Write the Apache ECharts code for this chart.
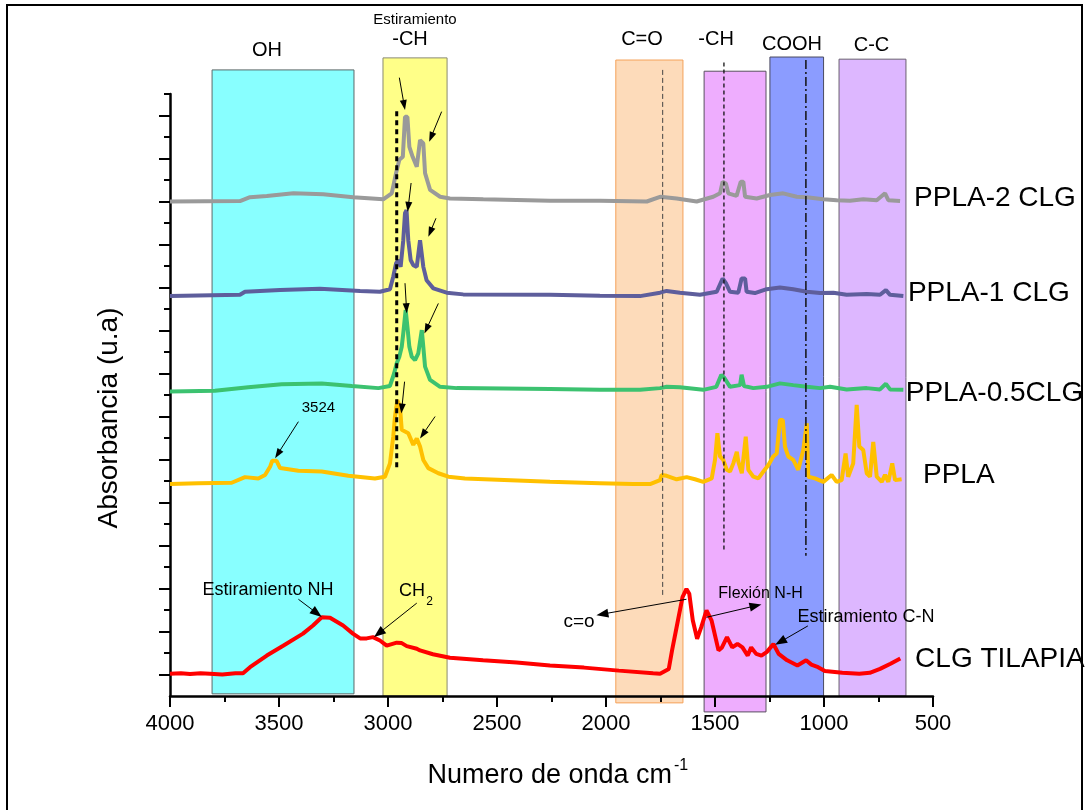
<!DOCTYPE html>
<html><head><meta charset="utf-8">
<script src="https://cdn.jsdelivr.net/npm/echarts@6/dist/echarts.min.js"></script>
<style>html,body{margin:0;padding:0;background:#fff}#c{width:1087px;height:810px}</style>
</head><body><div id="c"></div>
<script>
const FONT = '"Liberation Sans", Arial, sans-serif';

// ---- axis ticks ----
const xTickLabels = [4000, 3500, 3000, 2500, 2000, 1500, 1000, 500];
const yMajorTicks = [0,1,2,3,4,5,6,7,8,9,10,11,12,13];
const yMinorTicks = [0.5,1.5,2.5,3.5,4.5,5.5,6.5,7.5,8.5,9.5,10.5,11.5,12.5,13.5];

// ---- series (wavenumber cm-1, stacked absorbance u.a) ----
const seriesNames = ['CLG TILAPIA', 'PPLA', 'PPLA-0.5CLG', 'PPLA-1 CLG', 'PPLA-2 CLG'];

const redWn = [4000,3950,3908,3860,3817,3760,3700,3665,3633,3556,3481,3390,3344,3304,3266,3206,3161,3128,3098,3069,3037,3006,2960,2937,2914,2868,2853,2794,2716,2564,2410,2257,2101,1941,1784,1752,1712,1697,1673,1649,1631,1618,1602,1582,1563,1539,1516,1484,1468,1445,1421,1397,1374,1350,1334,1311,1287,1263,1232,1208,1169,1122,1082,1058,1027,996,916,838,790,743,695,650];
const redAbs = [0.02,0.03,0.01,0.03,0.02,0.0,0.03,0.03,0.17,0.44,0.67,0.95,1.14,1.33,1.32,1.14,0.95,0.84,0.84,0.87,0.79,0.67,0.74,0.73,0.66,0.60,0.56,0.47,0.39,0.33,0.28,0.21,0.16,0.09,0.03,0.02,0.13,0.56,1.18,1.80,1.99,1.88,1.26,0.83,1.10,1.49,1.26,0.56,0.63,0.87,0.63,0.71,0.63,0.44,0.63,0.48,0.44,0.52,0.71,0.48,0.33,0.21,0.33,0.23,0.17,0.08,0.04,0.02,0.04,0.13,0.25,0.37];

const yellowWn = [4000,3870,3717,3656,3595,3564,3541,3531,3511,3495,3411,3304,3182,3060,3014,2991,2976,2968,2957,2945,2937,2907,2884,2868,2853,2838,2815,2769,2723,2647,2257,2028,1875,1798,1752,1745,1722,1676,1630,1592,1554,1515,1500,1489,1477,1462,1446,1431,1416,1400,1393,1377,1359,1347,1324,1301,1278,1255,1233,1217,1202,1189,1179,1164,1141,1118,1095,1079,1072,1041,1003,965,942,919,901,889,866,850,838,820,804,789,774,758,735,720,705,687,674,644];
const yellowAbs = [4.43,4.45,4.46,4.59,4.56,4.64,4.83,4.97,4.97,4.80,4.74,4.72,4.62,4.56,4.60,4.91,5.53,6.00,6.38,6.23,5.69,5.61,5.34,5.49,5.30,4.99,4.80,4.68,4.60,4.56,4.48,4.45,4.43,4.43,4.52,4.64,4.62,4.54,4.59,4.54,4.48,4.56,4.99,5.61,5.07,4.99,4.76,4.72,4.91,5.18,4.95,4.68,5.53,4.76,4.60,4.56,4.72,4.87,5.07,5.14,5.92,5.92,5.30,5.07,4.99,4.76,5.22,5.84,4.60,4.56,4.48,4.64,4.48,4.52,5.14,4.60,4.91,6.27,5.30,5.22,4.68,4.60,5.41,4.60,4.48,4.64,4.48,4.91,4.52,4.54];

const greenWn = [4000,3794,3641,3488,3304,3166,3044,2991,2972,2960,2948,2937,2930,2919,2911,2902,2891,2876,2861,2845,2838,2830,2807,2761,2685,2257,2028,1844,1752,1722,1661,1554,1494,1471,1456,1431,1385,1378,1367,1324,1263,1202,1141,1079,1018,972,896,804,743,716,697,636];
const greenAbs = [6.58,6.60,6.68,6.75,6.77,6.71,6.66,6.71,7.00,7.24,7.39,7.62,7.93,8.48,8.09,7.62,7.39,7.31,7.47,8.01,7.62,7.16,6.85,6.69,6.66,6.64,6.62,6.62,6.66,6.69,6.68,6.62,6.69,6.97,6.89,6.69,6.73,6.97,6.71,6.66,6.69,6.77,6.73,6.69,6.66,6.69,6.63,6.66,6.63,6.76,6.63,6.62];

const blueWn = [4000,3679,3656,3495,3312,3128,3037,2991,2976,2963,2953,2942,2930,2922,2915,2907,2896,2884,2868,2853,2846,2838,2823,2792,2731,2655,2257,2028,1844,1752,1722,1661,1569,1492,1465,1450,1431,1393,1378,1362,1355,1317,1263,1202,1141,1079,1018,957,896,804,743,716,697,636];
const blueAbs = [8.80,8.83,8.90,8.94,8.97,8.92,8.90,8.96,9.25,9.56,9.64,9.48,10.10,10.73,10.80,10.10,9.64,9.52,9.48,10.10,10.14,9.48,9.17,8.98,8.88,8.84,8.83,8.81,8.80,8.88,8.92,8.88,8.83,8.90,9.21,9.10,8.90,8.88,9.21,9.21,8.90,8.87,8.96,9.00,8.96,8.90,8.87,8.88,8.83,8.85,8.83,8.94,8.83,8.80];

const grayWn = [4000,3679,3633,3556,3434,3297,3160,3022,2983,2963,2948,2932,2922,2911,2902,2887,2868,2853,2838,2830,2807,2761,2716,2563,2257,2028,1813,1752,1676,1584,1508,1477,1465,1450,1439,1401,1382,1370,1362,1309,1248,1187,1125,1079,1003,942,881,820,758,720,705,651];
const grayAbs = [11.00,11.01,11.10,11.13,11.19,11.17,11.10,11.05,11.19,11.66,11.97,12.04,12.97,12.97,12.27,12.04,11.81,12.43,12.35,11.66,11.27,11.11,11.07,11.05,11.02,11.02,11.00,11.11,11.07,11.00,11.11,11.19,11.46,11.42,11.19,11.13,11.46,11.46,11.11,11.07,11.15,11.19,11.11,11.10,11.05,11.03,11.02,11.05,11.03,11.19,11.03,11.01];

// ---- highlighted regions (cm-1) ----
const bandNames = ['OH', '-CH', 'C=O', '-CH', 'COOH', 'C-C'];
const bandFrom = [3807, 3023, 1955, 1550, 1248, 931];
const bandTo = [3156, 2729, 1647, 1266, 1002, 624];

// ---- drawing config (positions in data units, styles) ----
const bandTop = [14.06, 14.34, 14.29, 14.03, 14.36, 14.31];
const bandBottom = [-0.45, -0.5, -0.66, -0.87, -0.5, -0.5];
const bandFill = ['#88FFFF', '#FFFF88', '#FDDBBA', '#EEADFE', '#8B9CFF', '#DDB7FF'];
const bandStroke = ['#5a6a6a', '#8a8a70', '#F5A25A', '#5a5060', '#4a4a60', '#6a6070'];
const bandLabelPos = [[3555,14.52],[2899,14.76],[1835,14.76],[1495,14.76],[1147,14.64],[782,14.62]];

const seriesColors = ['#FF0000', '#FFC000', '#3CC270', '#5E5E9C', '#9A9A9A'];
const seriesLabelPos = [[582,0.36],[546,4.64],[625,6.53],[615,8.86],[587,11.07]];

const vLines = [
  {wn: 2960, from: 13.10, to: 4.76, color: '#000', width: 3, dash: [5,4]},
  {wn: 1740, from: 14.06, to: 1.80, color: '#444', width: 1, dash: [5,3]},
  {wn: 1459, from: 14.23, to: 2.85, color: '#111', width: 1.3, dash: [4,3]},
  {wn: 1083, from: 14.29, to: 2.76, color: '#111', width: 1.5, dash: [9,3,2,3]}
];
const smallArrows = [
  [2948,13.88, 2922,13.13], [2754,13.09, 2811,12.39],
  [2894,11.43, 2910,10.76], [2780,10.61, 2815,10.18],
  [2922,9.10, 2914,8.40], [2769,8.63, 2833,7.93],
  [2924,6.81, 2939,6.07], [2784,6.00, 2853,5.49],
  [3411,5.88, 3518,5.03]
];
const bigArrows = [
  [3411,1.75, 3304,1.34], [2868,1.66, 3064,0.87],
  [1631,1.75, 2044,1.38], [1539,1.33, 1287,1.63],
  [1074,1.13, 1224,0.69]
];
const notes = [
  {t: 'Estiramiento', wn: 2876, v: 15.22, size: 15, align: 'center'},
  {t: '3524', wn: 3319, v: 6.20, size: 15, align: 'center'},
  {t: 'Estiramiento NH', wn: 3550, v: 1.97, size: 18, align: 'center'},
  {t: 'CH', wn: 2830, v: 1.93, size: 18, align: 'right'},
  {t: '2', wn: 2824, v: 1.69, size: 12, align: 'left'},
  {t: 'c=o', wn: 2124, v: 1.23, size: 19, align: 'center'},
  {t: 'Flexión N-H', wn: 1291, v: 1.87, size: 16, align: 'center'},
  {t: 'Estiramiento C-N', wn: 807, v: 1.34, size: 18, align: 'center'}
];

function zip(a, b) { return a.map((x, i) => [x, b[i]]); }
const seriesData = [zip(redWn, redAbs), zip(yellowWn, yellowAbs), zip(greenWn, greenAbs), zip(blueWn, blueAbs), zip(grayWn, grayAbs)];

function txt(x, y, t, size, align) {
  return {type: 'text', x: x, y: y, style: {text: t, fill: '#000', fontSize: size, fontFamily: FONT,
    align: align, textAlign: align, verticalAlign: 'middle', textVerticalAlign: 'middle'}};
}
function arrow(p0, p1, len, hw, lw) {
  const dx = p1[0] - p0[0], dy = p1[1] - p0[1];
  const L = Math.sqrt(dx*dx + dy*dy) || 1;
  const ux = dx / L, uy = dy / L, nx = -uy, ny = ux;
  const bx = p1[0] - ux*len, by = p1[1] - uy*len;
  return [
    {type: 'line', shape: {x1: p0[0], y1: p0[1], x2: bx + ux*2, y2: by + uy*2}, style: {stroke: '#000', lineWidth: lw}},
    {type: 'polygon', shape: {points: [[p1[0], p1[1]], [bx + nx*hw, by + ny*hw], [bx - nx*hw, by - ny*hw]]}, style: {fill: '#000'}}
  ];
}

const chart = echarts.init(document.getElementById('c'), null, {renderer: 'canvas'});

const lineSeries = seriesNames.map((n, i) => ({
  name: n, type: 'line', data: seriesData[i], showSymbol: false, symbol: 'none',
  lineStyle: {color: seriesColors[i], width: 4}, z: 3 + i, silent: true
}));

const bandSeries = {
  type: 'custom', z: -1, clip: false, silent: true,
  data: bandNames.map((n, i) => [bandFrom[i], bandTop[i], bandTo[i], bandBottom[i]]),
  renderItem: function (params, api) {
    const i = params.dataIndex;
    const a = api.coord([bandFrom[i], bandTop[i]]);
    const b = api.coord([bandTo[i], bandBottom[i]]);
    return {type: 'rect', shape: {x: Math.min(a[0], b[0]), y: Math.min(a[1], b[1]), width: Math.abs(b[0]-a[0]), height: Math.abs(b[1]-a[1])},
      style: {fill: bandFill[i], stroke: bandStroke[i], lineWidth: 1}};
  }
};

const annoSeries = {
  type: 'custom', z: 20, clip: false, silent: true,
  data: [[2000, 5]],
  renderItem: function (params, api) {
    const ch = [];
    bandNames.forEach((n, i) => {
      const p = api.coord(bandLabelPos[i]);
      ch.push(txt(p[0], p[1], n, 20, 'center'));
    });
    seriesNames.forEach((n, i) => {
      const p = api.coord(seriesLabelPos[i]);
      ch.push(txt(p[0], p[1], n, 28, 'left'));
    });
    vLines.forEach(l => {
      const a = api.coord([l.wn, l.from]), b = api.coord([l.wn, l.to]);
      ch.push({type: 'line', shape: {x1: a[0], y1: a[1], x2: b[0], y2: b[1]}, style: {stroke: l.color, lineWidth: l.width, lineDash: l.dash}});
    });
    smallArrows.forEach(r => { arrow(api.coord([r[0], r[1]]), api.coord([r[2], r[3]]), 10, 3.5, 1).forEach(e => ch.push(e)); });
    bigArrows.forEach(r => { arrow(api.coord([r[0], r[1]]), api.coord([r[2], r[3]]), 12, 4.5, 1).forEach(e => ch.push(e)); });
    notes.forEach(n => {
      const p = api.coord([n.wn, n.v]);
      ch.push(txt(p[0], p[1], n.t, n.size, n.align));
    });
    return {type: 'group', children: ch};
  }
};

chart.setOption({
  animation: false,
  backgroundColor: '#fff',
  grid: {left: 170, right: 154, top: 94, bottom: 114, containLabel: false},
  xAxis: {
    type: 'value', min: 500, max: 4000, interval: 500, inverse: true,
    axisLine: {show: true, onZero: false, lineStyle: {color: '#000', width: 2.5}},
    axisTick: {show: true, length: 11, lineStyle: {color: '#000', width: 2}},
    minorTick: {show: true, splitNumber: 2, length: 6, lineStyle: {color: '#000', width: 2}},
    splitLine: {show: false}, minorSplitLine: {show: false},
    axisLabel: {color: '#000', fontSize: 22, fontFamily: FONT, margin: 17,
      formatter: v => (xTickLabels.indexOf(v) >= 0 ? String(v) : '')}
  },
  yAxis: [{
    type: 'value', min: -0.5, max: 13.5, position: 'left',
    axisLine: {show: true, onZero: false, lineStyle: {color: '#000', width: 2.5}},
    axisTick: {show: true, length: 11, customValues: yMajorTicks, lineStyle: {color: '#000', width: 2}},
    axisLabel: {show: false}, splitLine: {show: false}
  }, {
    type: 'value', min: -0.5, max: 13.5, position: 'left', offset: 0,
    axisLine: {show: false},
    axisTick: {show: true, length: 6, customValues: yMinorTicks, lineStyle: {color: '#000', width: 2}},
    axisLabel: {show: false}, splitLine: {show: false}
  }],
  graphic: [
    {type: 'rect', silent: true, z: 100, shape: {x: 7, y: 5, width: 1075, height: 830}, style: {fill: 'none', stroke: '#000', lineWidth: 2}},
    {type: 'text', x: 109, y: 418, rotation: Math.PI / 2, style: {text: 'Absorbancia (u.a)', fill: '#000', fontSize: 28, fontFamily: FONT, align: 'center', textAlign: 'center', verticalAlign: 'middle', textVerticalAlign: 'middle'}},
    {type: 'text', x: 672, y: 776, style: {text: 'Numero de onda cm', fill: '#000', fontSize: 27, fontFamily: FONT, align: 'right', textAlign: 'right', verticalAlign: 'middle', textVerticalAlign: 'middle'}},
    {type: 'text', x: 674, y: 766, style: {text: '-1', fill: '#000', fontSize: 16, fontFamily: FONT, align: 'left', textAlign: 'left', verticalAlign: 'middle', textVerticalAlign: 'middle'}}
  ],
  series: [bandSeries].concat(lineSeries).concat([annoSeries])
});
</script></body></html>
